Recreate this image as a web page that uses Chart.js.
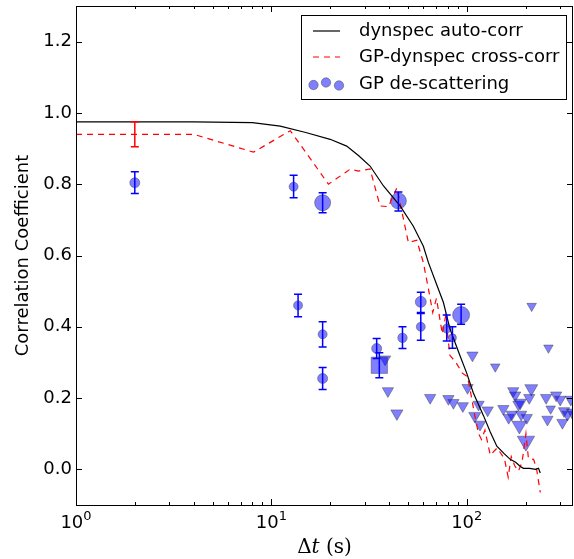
<!DOCTYPE html>
<html>
<head>
<meta charset="utf-8">
<script src="https://cdn.jsdelivr.net/npm/chart.js@4.4.1/dist/chart.umd.min.js"></script>
<style>
  html, body { margin: 0; padding: 0; background: #fff; }
  #wrap { width: 574px; height: 559px; }
</style>
</head>
<body>
<div id="wrap"><canvas id="corrChart" width="574" height="559"></canvas></div>
<script>
// dynspec auto-correlation (black line)
var autoX = [1, 2, 4, 8, 11.1, 15, 20, 24.3, 28, 32, 37.5, 45.6, 53.3, 60, 63.7, 70, 76, 82.2, 92.5, 100, 108, 122, 132, 142.6, 155, 167, 178, 187.6, 195, 210, 225, 233, 238]
var autoY = [0.975, 0.975, 0.975, 0.973, 0.963, 0.945, 0.926, 0.907, 0.88, 0.851, 0.795, 0.739, 0.682, 0.626, 0.58, 0.52, 0.468, 0.393, 0.318, 0.27, 0.215, 0.15, 0.105, 0.065, 0.045, 0.028, 0.02, 0.009, 0.003, 0.003, 0.0, 0.003, -0.01]

// GP-dynspec cross-correlation (red dashed)
var crossX = [1, 2, 4, 8.1, 12.5, 16.4, 19.6, 25.3, 27.9, 32, 36, 39.7, 43.9, 50.3, 55.5, 60, 64, 67, 70, 75, 78, 82, 88, 95, 101, 106, 110, 115, 119, 124, 132, 143, 156, 163, 169, 176, 184, 192, 201, 207, 220, 228, 238]
var crossY = [0.94, 0.94, 0.94, 0.89, 0.95, 0.86, 0.80, 0.842, 0.837, 0.843, 0.739, 0.737, 0.79, 0.636, 0.643, 0.58, 0.50, 0.44, 0.48, 0.38, 0.43, 0.32, 0.30, 0.27, 0.26, 0.20, 0.15, 0.10, 0.084, 0.11, 0.04, 0.06, 0.03, -0.022, 0.036, 0.01, -0.005, 0.02, 0.10, 0.03, 0.028, 0.0, -0.065]
var crossErrX = [2]
var crossErrLo = [0.905]
var crossErrHi = [0.975]

// GP de-scattering, circles with error bars
var circX = [2, 13, 18.3, 44.7, 13.7, 18.3, 18.3, 34.6, 46.9, 58.2, 58.2, 79, 84.5, 93.6]
var circY = [0.804, 0.793, 0.748, 0.753, 0.46, 0.379, 0.255, 0.339, 0.369, 0.47, 0.40, 0.395, 0.369, 0.433]
var circLo = [0.774, 0.762, 0.72, 0.725, 0.428, 0.343, 0.224, 0.311, 0.339, 0.44, 0.362, 0.36, 0.34, 0.407]
var circHi = [0.835, 0.825, 0.776, 0.778, 0.491, 0.414, 0.286, 0.367, 0.40, 0.497, 0.437, 0.433, 0.40, 0.463]
var circR = [5, 4.5, 8, 8, 4.5, 4.5, 5, 5, 4.7, 5.5, 4.5, 4.5, 4, 8.5]

// GP de-scattering, square with error bar
var sqX = [35.7]
var sqY = [0.292]
var sqLo = [0.257]
var sqHi = [0.327]

// GP de-scattering, upper limits (triangles)
var triX = [38.2, 39.5, 43.9, 65, 80.6, 85.5, 95.5, 101, 215, 107, 140, 262, 110, 115, 117, 128, 154, 164, 170, 173, 177, 184, 188, 190, 203, 214, 209, 186, 201, 255, 269, 259, 287, 301, 309, 315, 328, 341, 346]
var triY = [0.309, 0.22, 0.157, 0.201, 0.198, 0.187, 0.178, 0.229, 0.458, 0.32, 0.288, 0.341, 0.15, 0.182, 0.126, 0.166, 0.17, 0.145, 0.154, 0.22, 0.208, 0.182, 0.187, 0.154, 0.145, 0.227, 0.201, 0.123, 0.079, 0.201, 0.17, 0.14, 0.208, 0.196, 0.131, 0.164, 0.154, 0.196, 0.16]
var triR = [6.5, 6.5, 7, 6.5, 6.5, 6.5, 6.5, 6.5, 5.5, 6.5, 5.5, 5.5, 7, 6.5, 6.5, 6.5, 6.5, 6.5, 6.5, 6.5, 6.5, 6.5, 7, 6.5, 6.5, 7.5, 6.5, 8.5, 10, 6.5, 5.5, 6.5, 6.5, 6.5, 6.5, 6.5, 6.5, 6.5, 6.5]

// axis ticks
var xMajor = [1, 10, 100]
var xMinor = [2, 3, 4, 5, 6, 7, 8, 9, 20, 30, 40, 50, 60, 70, 80, 90, 200, 300]
var xExp = ['0', '1', '2']
var yTicks = [0, 0.2, 0.4, 0.6, 0.8, 1.0, 1.2]

var legendLabels = ['dynspec auto-corr', 'GP-dynspec cross-corr', 'GP de-scattering']

function pts(xs, ys) {
    return xs.map((v, i) => ({x: v, y: ys[i]}))
}

var blueFill = 'rgba(0,0,255,0.5)'
var blueEdge = 'rgba(60,60,60,0.45)'

function noPad(scale) {
    scale.paddingTop = 0
    scale.paddingBottom = 0
    scale.paddingLeft = 0
    scale.paddingRight = 0
}

var decor = {
    id: 'decor',
    afterDatasetsDraw(chart) {
        const ctx = chart.ctx
        const x = chart.scales.x, y = chart.scales.y
        function errBar(xv, lo, hi, color) {
            const px = x.getPixelForValue(xv)
            const p1 = y.getPixelForValue(lo), p2 = y.getPixelForValue(hi)
            ctx.strokeStyle = color
            ctx.lineWidth = 1.5
            ctx.beginPath()
            ctx.moveTo(px, p1); ctx.lineTo(px, p2)
            ctx.moveTo(px - 4, p1); ctx.lineTo(px + 4, p1)
            ctx.moveTo(px - 4, p2); ctx.lineTo(px + 4, p2)
            ctx.stroke()
        }
        ctx.save()
        for (var i = 0; i < crossErrX.length; i++) errBar(crossErrX[i], crossErrLo[i], crossErrHi[i], '#ff0000')
        for (var i = 0; i < circX.length; i++) errBar(circX[i], circLo[i], circHi[i], '#0000ff')
        for (var i = 0; i < sqX.length; i++) errBar(sqX[i], sqLo[i], sqHi[i], '#0000ff')
        ctx.restore()
    },
    afterDraw(chart) {
        const ctx = chart.ctx
        const a = chart.chartArea
        const x = chart.scales.x, y = chart.scales.y
        ctx.save()
        // frame
        ctx.strokeStyle = '#000'
        ctx.lineWidth = 1
        ctx.strokeRect(Math.round(a.left) + 0.5, Math.round(a.top) + 0.5, Math.round(a.right - a.left) - 1, Math.round(a.bottom - a.top))
        // inward ticks
        ctx.beginPath()
        function xt(v, len) {
            const px = Math.round(x.getPixelForValue(v)) + 0.5
            ctx.moveTo(px, a.bottom); ctx.lineTo(px, a.bottom - len)
            ctx.moveTo(px, a.top); ctx.lineTo(px, a.top + len)
        }
        xMajor.forEach(v => xt(v, 6))
        xMinor.forEach(v => xt(v, 3))
        yTicks.forEach(v => {
            const py = Math.round(y.getPixelForValue(v)) + 0.5
            ctx.moveTo(a.left, py); ctx.lineTo(a.left + 6, py)
            ctx.moveTo(a.right, py); ctx.lineTo(a.right - 6, py)
        })
        ctx.stroke()

        // x tick labels 10^n
        ctx.fillStyle = '#000'
        ctx.textBaseline = 'alphabetic'
        xMajor.forEach((v, i) => {
            const px = x.getPixelForValue(v)
            ctx.font = '18px "DejaVu Sans"'
            const w1 = ctx.measureText('10').width
            ctx.font = '13px "DejaVu Sans"'
            const w2 = ctx.measureText(xExp[i]).width
            const left = px - (w1 + w2) / 2
            ctx.font = '18px "DejaVu Sans"'
            ctx.textAlign = 'left'
            ctx.fillText('10', left, 528)
            ctx.font = '13px "DejaVu Sans"'
            ctx.fillText(xExp[i], left + w1, 520)
        })

        // x title: Δt (s)
        const parts = [['Δ', '20px "DejaVu Serif"'], ['t', 'italic 20px "DejaVu Serif"'], [' (s)', '20px "DejaVu Serif"']]
        var tw = 0
        parts.forEach(p => { ctx.font = p[1]; tw += ctx.measureText(p[0]).width })
        var cx = (a.left + a.right) / 2 - tw / 2
        parts.forEach(p => { ctx.font = p[1]; ctx.fillText(p[0], cx, 553); cx += ctx.measureText(p[0]).width })

        // legend
        const lx = 301.5, ly = 15.5, lw = 265, lh = 84
        ctx.fillStyle = '#fff'
        ctx.fillRect(lx, ly, lw, lh)
        ctx.strokeStyle = '#000'
        ctx.lineWidth = 1
        ctx.strokeRect(lx, ly, lw, lh)
        const rows = [31, 57, 84]
        ctx.lineWidth = 1.2
        ctx.strokeStyle = '#000'
        ctx.beginPath(); ctx.moveTo(313, rows[0]); ctx.lineTo(340, rows[0]); ctx.stroke()
        ctx.strokeStyle = '#ff0000'
        ctx.setLineDash([6, 5])
        ctx.beginPath(); ctx.moveTo(313, rows[1]); ctx.lineTo(340, rows[1]); ctx.stroke()
        ctx.setLineDash([])
        ;[[313.5, 85, 4.7], [326, 82.5, 4.7], [339, 85.5, 4.7]].forEach(c => {
            ctx.beginPath()
            ctx.arc(c[0], c[1], c[2], 0, Math.PI * 2)
            ctx.fillStyle = blueFill
            ctx.fill()
            ctx.strokeStyle = blueEdge
            ctx.lineWidth = 1
            ctx.stroke()
        })
        ctx.fillStyle = '#000'
        ctx.font = '18px "DejaVu Sans"'
        ctx.textAlign = 'left'
        ctx.textBaseline = 'middle'
        legendLabels.forEach((t, i) => ctx.fillText(t, 359, rows[i]))
        ctx.restore()
    }
}

new Chart(document.getElementById('corrChart'), {
    type: 'scatter',
    data: {
        datasets: [
            {
                type: 'line',
                label: 'dynspec auto-corr',
                data: pts(autoX, autoY),
                borderColor: '#000',
                borderWidth: 1.2,
                pointRadius: 0,
                fill: false,
                tension: 0,
            },
            {
                type: 'line',
                label: 'GP-dynspec cross-corr',
                data: pts(crossX, crossY),
                borderColor: '#ff0000',
                borderWidth: 1.2,
                borderDash: [6, 5],
                pointRadius: 0,
                fill: false,
                tension: 0,
            },
            {
                label: 'GP de-scattering',
                data: pts(circX, circY),
                pointRadius: circR,
                pointStyle: 'circle',
                backgroundColor: blueFill,
                borderColor: blueEdge,
                borderWidth: 1,
            },
            {
                label: 'GP de-scattering square',
                data: pts(sqX, sqY),
                pointRadius: 11.5,
                pointStyle: 'rect',
                backgroundColor: blueFill,
                borderColor: blueEdge,
                borderWidth: 1,
            },
            {
                label: 'GP de-scattering limits',
                data: pts(triX, triY),
                pointRadius: triR,
                pointStyle: 'triangle',
                rotation: 180,
                backgroundColor: blueFill,
                borderColor: blueEdge,
                borderWidth: 1,
            },
        ]
    },
    options: {
        responsive: false,
        animation: false,
        devicePixelRatio: 1,
        layout: { autoPadding: false, padding: { top: 6, right: 1, left: 0, bottom: 0 } },
        plugins: {
            legend: { display: false },
            tooltip: { enabled: false },
        },
        scales: {
            x: {
                type: 'logarithmic',
                min: 1,
                max: 350,
                grid: { display: false, drawTicks: false },
                border: { display: false },
                ticks: { display: false },
                afterFit(scale) { scale.height = 54; noPad(scale) },
            },
            y: {
                min: -0.1,
                max: 1.3,
                grid: { display: false, drawTicks: false },
                border: { display: false },
                afterBuildTicks(scale) { scale.ticks = yTicks.map(v => ({value: v})) },
                afterFit(scale) { scale.width = 76; noPad(scale) },
                ticks: {
                    color: '#000',
                    padding: 4,
                    font: { family: 'DejaVu Sans', size: 18 },
                    callback: v => v.toFixed(1),
                },
                title: {
                    display: true,
                    text: 'Correlation Coefficient',
                    color: '#000',
                    font: { family: 'DejaVu Sans', size: 18 },
                    padding: { top: 13, bottom: 0 },
                },
            },
        },
    },
    plugins: [decor],
});
</script>
</body>
</html>
